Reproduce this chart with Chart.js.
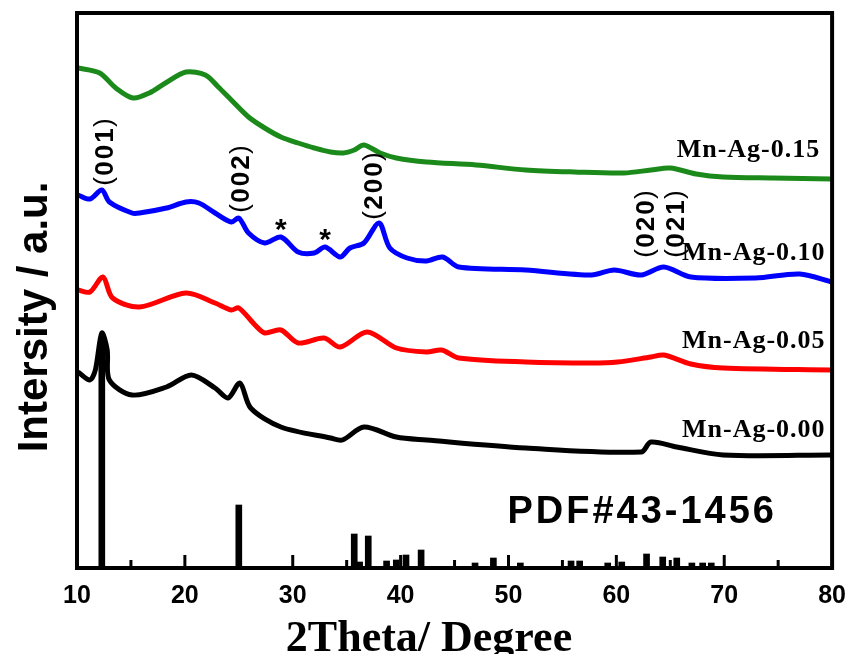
<!DOCTYPE html>
<html>
<head>
<meta charset="utf-8">
<script src="https://cdn.jsdelivr.net/npm/chart.js@4.4.0/dist/chart.umd.min.js"></script>
<style>
  body { margin: 0; background: #fff; }
  #wrap { width: 859px; height: 654px; }
</style>
</head>
<body>
<div id="wrap"><canvas id="xrd" width="859" height="654"></canvas></div>
<script>
// XRD patterns, 2theta in degrees, intensity in arbitrary units (offset stacked)
const green015 = [
  [10.1, 500], [12.1, 495], [13.6, 480], [15.2, 470], [16.7, 475], [18.2, 485],
  [20.1, 496], [21.9, 493], [23.1, 481], [24.3, 468], [25.9, 451], [27.4, 440],
  [28.9, 431], [30.5, 425], [32.0, 420], [33.5, 416], [34.7, 415], [35.7, 418],
  [36.6, 423], [38.1, 415], [39.6, 410], [42.4, 406], [47.0, 403], [51.6, 398],
  [56.1, 396], [60.7, 395], [63.2, 398], [65.0, 400], [67.4, 394], [69.9, 391],
  [74.5, 390], [80.0, 389]
];
const blue010 = [
  [10.1, 373], [11.2, 369], [12.3, 378], [13.0, 366], [15.1, 355], [15.8, 355],
  [18.3, 360], [20.1, 366], [21.3, 365], [22.8, 355], [24.3, 346], [25.0, 350],
  [25.9, 335], [27.4, 325], [28.9, 331], [30.5, 316], [32.0, 315], [33.0, 321],
  [34.4, 311], [35.3, 320], [36.6, 325], [38.0, 345], [39.0, 320], [40.6, 310],
  [42.4, 307], [43.9, 311], [45.4, 301], [51.6, 298], [57.7, 293], [59.8, 298],
  [62.3, 293], [64.4, 301], [66.9, 291], [72.9, 290], [77.0, 294], [80.0, 286]
];
const red005 = [
  [10.1, 278], [11.2, 276], [12.4, 291], [13.3, 270], [15.8, 261], [20.1, 275],
  [22.8, 265], [24.3, 258], [25.0, 260], [26.5, 243], [27.4, 235], [28.9, 238],
  [30.5, 225], [32.9, 230], [34.4, 221], [36.9, 236], [39.6, 220], [42.4, 216],
  [43.8, 218], [45.4, 210], [51.6, 206], [57.7, 205], [60.1, 206], [63.2, 211],
  [64.4, 213], [66.9, 204], [69.9, 200], [80.0, 198]
];
const black000 = [
  [10.1, 196], [11.2, 188], [11.7, 198], [12.3, 235], [12.8, 218], [13.0, 188],
  [15.1, 173], [18.3, 181], [20.6, 193], [22.8, 180], [24.0, 170], [25.1, 185],
  [26.1, 160], [28.9, 141], [33.5, 130], [34.6, 128], [36.6, 141], [39.6, 131],
  [42.4, 128], [51.6, 120], [62.3, 116], [63.2, 126], [65.6, 121], [69.9, 113],
  [80.0, 113]
];
// standard card PDF#43-1456 stick positions and heights
const pdfAngles = [12.3, 25.0, 35.7, 36.2, 37.0, 38.7, 39.6, 40.5, 41.9, 46.9, 48.6,
  51.1, 55.8, 56.6, 59.2, 60.5, 62.8, 64.3, 65.6, 67.0, 68.0, 68.8];
const pdfHeights = [230, 63, 34, 6, 32, 7, 8, 13, 18, 5, 10,
  5, 7, 7, 5, 6, 14, 11, 10, 5, 5, 5];

const sampleNames = ['Mn-Ag-0.15', 'Mn-Ag-0.10', 'Mn-Ag-0.05', 'Mn-Ag-0.00'];
const sampleColors = ['#1b8a1b', '#0000ff', '#ff0000', '#000000'];
const sampleData = [green015, blue010, red005, black000];
const xTicks = [10, 20, 30, 40, 50, 60, 70, 80];

// annotation text anchored in data units
const planeLabels = [
  { text: '001', x: 12.6, y: 416 },
  { text: '002', x: 25.2, y: 389 },
  { text: '200', x: 37.5, y: 382 },
  { text: '020', x: 62.75, y: 344 },
  { text: '021', x: 65.5, y: 344 }
];
const starMarks = [{ x: 28.9, y: 343 }, { x: 33.0, y: 333 }];
const nameLabels = [
  { text: 'Mn-Ag-0.15', x: 78.9, y: 411 },
  { text: 'Mn-Ag-0.10', x: 79.4, y: 308 },
  { text: 'Mn-Ag-0.05', x: 79.4, y: 220 },
  { text: 'Mn-Ag-0.00', x: 79.4, y: 131 }
];

const datasets = sampleData.map((pts, i) => ({
  type: 'line',
  label: sampleNames[i],
  data: pts.map(p => ({ x: p[0], y: p[1] })),
  borderColor: sampleColors[i],
  borderWidth: 5,
  pointRadius: 0,
  tension: 0.3,
  fill: false
}));
datasets.push({
  type: 'bar',
  label: 'PDF#43-1456',
  data: pdfAngles.map((a, i) => ({ x: a, y: pdfHeights[i] })),
  backgroundColor: '#000',
  barThickness: 6
});

// frame, inward ticks, and all the free text
const decorPlugin = {
  id: 'decor',
  afterDraw(chart) {
    const { ctx, chartArea: a, scales } = chart;
    const xs = scales.x, ys = scales.y;
    ctx.save();
    ctx.strokeStyle = '#000';
    ctx.lineWidth = 4;
    ctx.strokeRect(a.left, a.top, a.right - a.left, a.bottom - a.top);

    ctx.lineWidth = 3;
    for (let v = 15; v < 80; v += 5) {
      const px = xs.getPixelForValue(v);
      const len = v % 10 === 0 ? 13 : 8;
      ctx.beginPath();
      ctx.moveTo(px, a.bottom);
      ctx.lineTo(px, a.bottom - len);
      ctx.stroke();
    }

    ctx.fillStyle = '#000';
    // plane indices, rotated, with thin brackets
    ctx.textBaseline = 'middle';
    planeLabels.forEach(l => {
      ctx.save();
      ctx.translate(xs.getPixelForValue(l.x), ys.getPixelForValue(l.y));
      ctx.rotate(-Math.PI / 2);
      ctx.font = "bold 26px 'Liberation Sans'";
      ctx.letterSpacing = '2px';
      ctx.textAlign = 'center';
      ctx.fillText(l.text, 1, 1);
      ctx.letterSpacing = '0px';
      ctx.font = "26px 'Liberation Sans'";
      ctx.textAlign = 'right';
      ctx.fillText('(', -25, 0);
      ctx.textAlign = 'left';
      ctx.fillText(')', 25, 0);
      ctx.restore();
    });
    ctx.textAlign = 'center';
    ctx.font = "bold 30px 'Liberation Sans'";
    starMarks.forEach(s => {
      ctx.fillText('*', xs.getPixelForValue(s.x), ys.getPixelForValue(s.y) + 6);
    });

    // sample names
    ctx.font = "bold 26px 'Liberation Serif'";
    ctx.letterSpacing = '1px';
    ctx.textAlign = 'right';
    ctx.textBaseline = 'alphabetic';
    nameLabels.forEach(l => {
      ctx.fillText(l.text, xs.getPixelForValue(l.x), ys.getPixelForValue(l.y));
    });

    ctx.font = "bold 38px 'Liberation Sans'";
    ctx.letterSpacing = '3px';
    ctx.textAlign = 'left';
    ctx.fillText('PDF#43-1456', xs.getPixelForValue(49.9), ys.getPixelForValue(45));
    ctx.letterSpacing = '0px';

    // axis titles
    ctx.font = "bold 44px 'Liberation Serif'";
    ctx.textAlign = 'center';
    ctx.fillText('2Theta/ Degree', 429, 651);

    ctx.save();
    ctx.font = "bold 42px 'Liberation Sans'";
    ctx.translate(47, 317);
    ctx.rotate(-Math.PI / 2);
    ctx.fillText('Intersity / a.u.', 0, 0);
    ctx.restore();
    ctx.restore();
  }
};

new Chart(document.getElementById('xrd'), {
  type: 'line',
  data: { datasets },
  options: {
    responsive: false,
    animation: false,
    layout: { padding: { left: 77, right: 18, top: 13, bottom: 0 } },
    plugins: { legend: { display: false }, tooltip: { enabled: false } },
    scales: {
      x: {
        type: 'linear',
        min: 10,
        max: 80,
        offset: false,
        afterBuildTicks: (scale) => { scale.ticks = xTicks.map(v => ({ value: v })); },
        afterFit: (scale) => { scale.height = 86; },
        grid: { display: false, drawTicks: false },
        border: { display: false },
        ticks: {
          color: '#000',
          padding: 13,
          font: { family: "'Liberation Sans'", size: 25, weight: 'bold' }
        }
      },
      y: {
        display: false,
        min: 0,
        max: 555
      }
    }
  },
  plugins: [decorPlugin]
});
</script>
</body>
</html>
